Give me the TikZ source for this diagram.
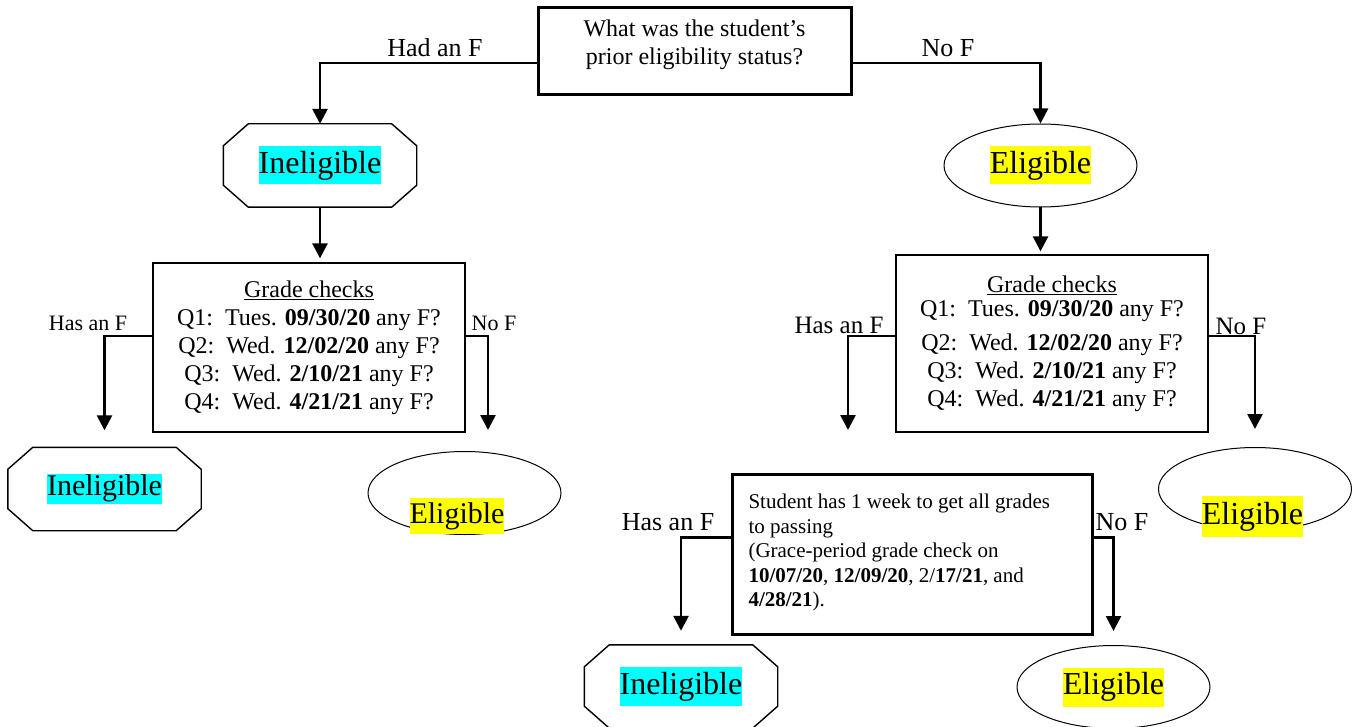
\documentclass[tikz,border=0pt]{standalone}
\usepackage{fontspec}
\setmainfont{Liberation Serif}
\usetikzlibrary{arrows.meta,shapes.geometric}
\definecolor{hlcyan}{RGB}{0,255,255}
\definecolor{hlyellow}{RGB}{255,255,0}
\newcommand{\fs}[2]{\fontsize{#1}{#2}\selectfont}
\newcommand{\hl}[2]{{\setlength{\fboxsep}{0pt}\colorbox{#1}{\strut #2}}}

\begin{document}
\begin{tikzpicture}[x=1pt, y=-1pt,
    qbox/.style={draw, rectangle, line width=3pt, minimum width=313pt, minimum height=87pt, align=center, font=\fs{24}{28}},
    gradebox/.style={draw, rectangle, line width=1.3pt, minimum width=312pt, align=center, font=\fs{24}{28}},
    gracebox/.style={draw, rectangle, line width=3pt, minimum width=360pt, minimum height=160pt, text width=328pt, align=flush left, inner xsep=16pt, anchor=north west, font=\fs{21}{24.5}},
    octa/.style={minimum width=193pt, minimum height=83pt, inner sep=0pt,
        append after command={\pgfextra{\draw[line width=1.4pt]
            ([xshift=25pt]\tikzlastnode.north west) -- ([xshift=-25pt]\tikzlastnode.north east)
            -- ([yshift=-22pt]\tikzlastnode.north east) -- ([yshift=22pt]\tikzlastnode.south east)
            -- ([xshift=-25pt]\tikzlastnode.south east) -- ([xshift=25pt]\tikzlastnode.south west)
            -- ([yshift=22pt]\tikzlastnode.south west) -- ([yshift=-22pt]\tikzlastnode.north west) -- cycle;}}},
    oval/.style={draw, ellipse, line width=1pt, minimum width=193pt, minimum height=83pt, inner sep=0pt},
    conn/.style={line width=2.6pt, -{Triangle[width=15pt,length=15pt]}},
    lbl/.style={inner sep=0pt}]
    \useasboundingbox (0,0) rectangle (1357,727);
    \clip (0,0) rectangle (1357,727);

    % Question
    \node[qbox] (q) at (694.5,51.5) {What was the student’s\\prior eligibility status?\\[-10pt]\mbox{}};

    % Left branch
    \node[octa, font=\fs{32}{38}] (inel1) at (320,165.5) {\hl{hlcyan}{Ineligible}};
    \node[gradebox, minimum height=169pt] (gc1) at (309,347.5) {\underline{Grade checks}\\
        Q1:\ \ Tues. \textbf{09/30/20} any F?\\
        Q2:\ \ Wed. \textbf{12/02/20} any F?\\
        Q3:\ \ Wed. \textbf{2/10/21} any F?\\
        Q4:\ \ Wed. \textbf{4/21/21} any F?};
    \node[octa, font=\fs{30}{28}] (inel2) at (104.5,489) {\hl{hlcyan}{Ineligible}};
    \node[oval] (elig2) at (464.5,493) {};
    \node[lbl, font=\fs{30}{36}] (elig2txt) at (457,516) {\hl{hlyellow}{Eligible}};

    % Right branch
    \node[oval, font=\fs{32}{38}] (elig1) at (1040.5,165.5) {\hl{hlyellow}{Eligible}};
    \node[gradebox, minimum height=177pt] (gc2) at (1052,343.5) {\underline{Grade checks}\\[-4pt]
        Q1:\ \ Tues. \textbf{09/30/20} any F?\\[6pt]
        Q2:\ \ Wed. \textbf{12/02/20} any F?\\
        Q3:\ \ Wed. \textbf{2/10/21} any F?\\
        Q4:\ \ Wed. \textbf{4/21/21} any F?};
    \node[oval] (elig3) at (1255,489) {};
    \node[lbl, font=\fs{32}{41}] (elig3txt) at (1252.5,516.5) {\hl{hlyellow}{Eligible}};

    % Grace period
    \node[gracebox] (grace) at (731,473) {Student has 1 week to get all grades\\
        to passing\\
        (Grace-period grade check on\\
        \textbf{10/07/20}, \textbf{12/09/20}, 2/\textbf{17/21}, and\\
        \textbf{4/28/21}).\\[-16pt]\mbox{}};
    \node[octa, font=\fs{32}{39}] (inel3) at (681,686.5) {\hl{hlcyan}{Ineligible}};
    \node[oval, font=\fs{32}{39}] (elig4) at (1113.5,687) {\hl{hlyellow}{Eligible}};

    % Arrows
    \coordinate (gc1end) at (488,430);
    \coordinate (gc2end) at (848,430);
    \draw[conn] ([yshift=-11.5pt]q.west) -| (inel1.north);
    \draw[conn] ([yshift=-11.5pt]q.east) -| (elig1.north);
    \draw[conn, shorten >=4pt] (inel1.south) -- (inel1.south |- gc1.north);
    \draw[conn, shorten >=3pt] (elig1.south) -- (elig1.south |- gc2.north);
    \draw[conn] ([yshift=11.5pt]gc1.west) -| ([yshift=17pt]inel2.north);
    \draw[conn] ([yshift=11.5pt]gc1.east) -| (gc1end);
    \draw[conn] ([yshift=7.5pt]gc2.west) -| (gc2end);
    \draw[conn] ([yshift=7.5pt]gc2.east) -| ([yshift=18pt]elig3.north);
    \draw[conn] ([yshift=17pt]grace.west) -| ([yshift=14pt]inel3.north);
    \draw[conn] ([yshift=17pt]grace.east) -| ([yshift=14pt]elig4.north);

    % Labels
    \node[lbl, font=\fs{26}{30}] at (435,48) {Had an F};
    \node[lbl, font=\fs{26}{30}] at (948,48) {No F};
    \node[lbl, font=\fs{22}{26}] at (88,323) {Has an F};
    \node[lbl, font=\fs{22}{26}] at (494,323) {No F};
    \node[lbl, font=\fs{25}{29}] at (839,325) {Has an F};
    \node[lbl, font=\fs{25}{29}] at (1241,326) {No F};
    \node[lbl, font=\fs{26}{30}] at (668,522) {Has an F};
    \node[lbl, font=\fs{26}{30}] at (1122,522) {No F};
\end{tikzpicture}
\end{document}
